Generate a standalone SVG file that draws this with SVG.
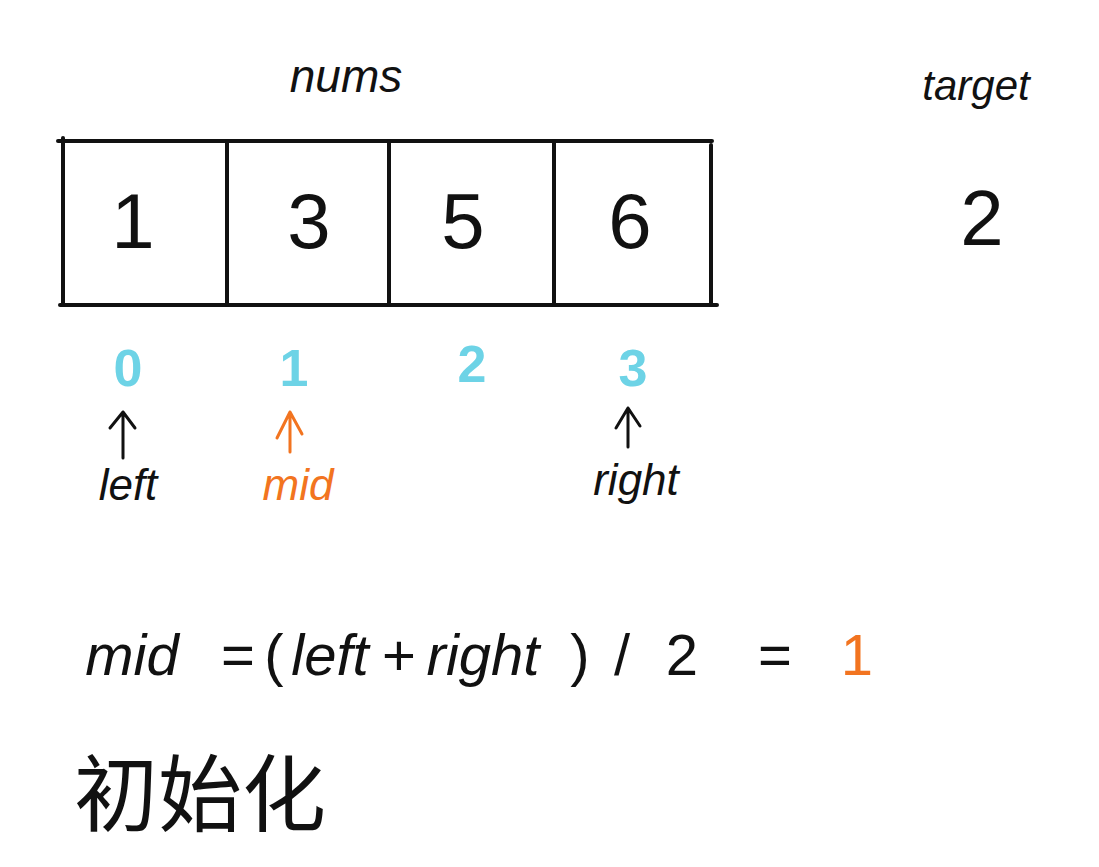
<svg xmlns="http://www.w3.org/2000/svg" width="1099" height="867" viewBox="0 0 1099 867">
<style>
.t{font-family:"Liberation Sans","Noto Sans CJK SC",sans-serif;fill:#111;text-anchor:middle}
.num{font-size:78px}
.idx{font-size:52px;fill:#6dd3e6;font-weight:bold}
.lbl{font-size:44px}
.f{font-size:58px}
.or{fill:#f27420}
.ln{stroke:#111;stroke-width:4;fill:none;stroke-linecap:round}
.ar{stroke-width:3;fill:none;stroke-linecap:round;stroke-linejoin:round}
</style>
<rect width="1099" height="867" fill="#fff"/>
<g id="title"><text class="t" x="346" y="92" font-size="46" font-style="italic">nums</text></g>
<g id="target"><text class="t" x="976" y="100" font-size="42" font-style="italic">target</text>
<text class="t num" x="982" y="245">2</text></g>
<g id="array">
<line class="ln" x1="58" y1="141" x2="712" y2="141"/>
<line class="ln" x1="60" y1="305" x2="717" y2="305"/>
<line class="ln" x1="63" y1="138" x2="63" y2="305"/>
<line class="ln" x1="227" y1="141" x2="227" y2="305"/>
<line class="ln" x1="389" y1="141" x2="389" y2="305"/>
<line class="ln" x1="554" y1="141" x2="554" y2="305"/>
<line class="ln" x1="711" y1="145" x2="711" y2="305"/>
</g>
<g id="cell0"><text class="t num" x="133" y="248">1</text></g>
<g id="cell1"><text class="t num" x="309" y="248">3</text></g>
<g id="cell2"><text class="t num" x="463" y="248">5</text></g>
<g id="cell3"><text class="t num" x="630" y="248">6</text></g>
<g id="idx0"><text class="t idx" x="128" y="386">0</text></g>
<g id="idx1"><text class="t idx" x="294" y="386">1</text></g>
<g id="idx2"><text class="t idx" x="472" y="382">2</text></g>
<g id="idx3"><text class="t idx" x="633" y="386">3</text></g>
<g id="connectors">
<path class="ar" stroke="#111" d="M123,458 L123,412 M110,428 L123,412 L135,428"/>
<path class="ar" stroke="#f27420" d="M290,452 L290,412 M277,438 L290,412 L302,434"/>
<path class="ar" stroke="#111" d="M628,447 L628,408 M616,428 L628,408 L640,426"/>
</g>
<g id="left"><text class="t lbl" x="128" y="500" font-style="italic">left</text></g>
<g id="mid"><text class="t lbl or" x="298" y="500" font-style="italic">mid</text></g>
<g id="right"><text class="t lbl" x="636" y="495" font-style="italic">right</text></g>
<g id="formula">
<text class="t f" x="132" y="675" font-style="italic">mid</text>
<text class="t f" x="238" y="675">=</text>
<text class="t f" x="274" y="675">(</text>
<text class="t f" x="330" y="675" font-style="italic">left</text>
<text class="t f" x="399" y="675">+</text>
<text class="t f" x="483" y="675" font-style="italic">right</text>
<text class="t f" x="580" y="675">)</text>
<text class="t f" x="622" y="675">/</text>
<text class="t f" x="682" y="675">2</text>
<text class="t f" x="775" y="675">=</text>
<text class="t f or" x="857" y="675">1</text>
</g>
<g id="caption"><text class="t" x="200" y="825" font-size="84">初始化</text></g>
</svg>
